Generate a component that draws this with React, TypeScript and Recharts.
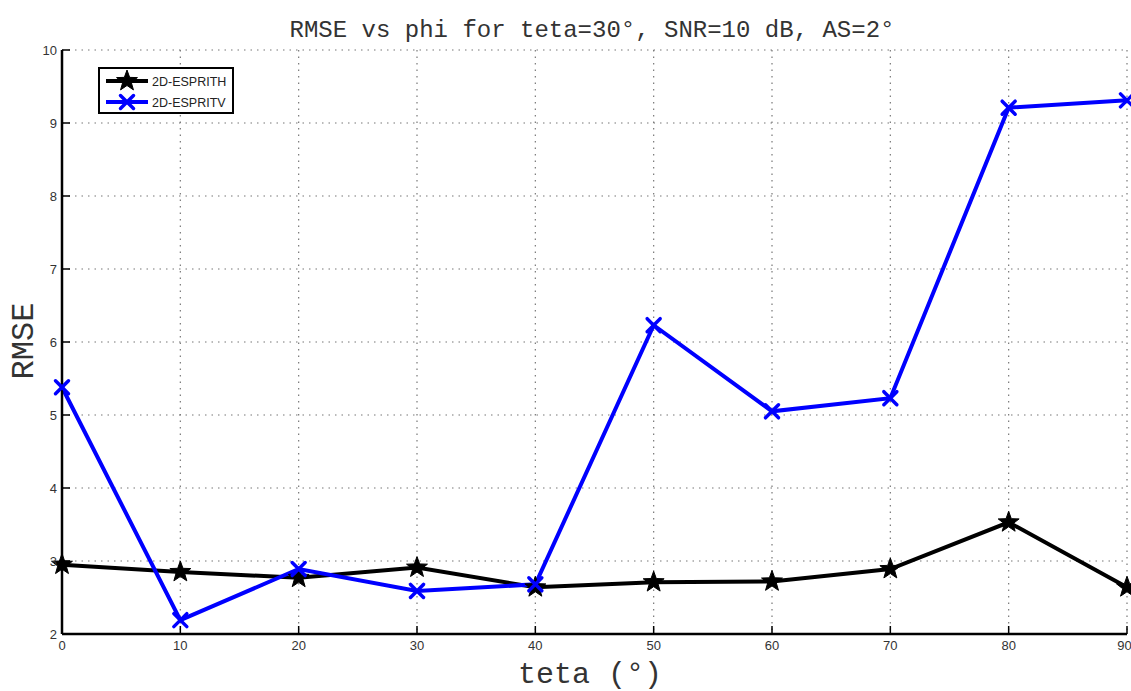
import { LineChart, Line, XAxis, YAxis, CartesianGrid, Legend } from 'recharts';

// MARK: - Data

const tetaValues = [0, 10, 20, 30, 40, 50, 60, 70, 80, 90];
const espritH = [2.95, 2.85, 2.77, 2.91, 2.64, 2.71, 2.72, 2.89, 3.53, 2.64];
const espritV = [5.38, 2.19, 2.89, 2.59, 2.68, 6.23, 5.05, 5.23, 9.21, 9.31];
const xTicks = [0, 10, 20, 30, 40, 50, 60, 70, 80, 90];
const yTicks = [2, 3, 4, 5, 6, 7, 8, 9, 10];

const seriesNames = ['2D-ESPRITH', '2D-ESPRITV'];

const chartData = tetaValues.map((t, i) => ({ teta: t, h: espritH[i], v: espritV[i] }));

const BLUE = '#0000ff';
const MONO = '"Liberation Mono", "DejaVu Sans Mono", monospace';
const SANS = '"Liberation Sans", Arial, sans-serif';

// MARK: - Markers

const starPath = (cx: number, cy: number, outer: number, inner: number) => {
    let d = '';
    for (let i = 0; i < 10; i++) {
        const r = i % 2 === 0 ? outer : inner;
        const a = -Math.PI / 2 + (i * Math.PI) / 5;
        d += `${i === 0 ? 'M' : 'L'}${cx + r * Math.cos(a)},${cy + r * Math.sin(a)}`;
    }
    return d + 'Z';
};

const StarDot = (props: any) => {
    const { cx, cy, index } = props;
    if (cx == null || cy == null) return <g key={index} />;
    return <path key={index} d={starPath(cx, cy, 11, 4.5)} fill="#000" stroke="#000" strokeWidth={1} />;
};

const CrossDot = (props: any) => {
    const { cx, cy, index } = props;
    if (cx == null || cy == null) return <g key={index} />;
    const s = 6.5;
    return (
        <g key={index} stroke={BLUE} strokeWidth={3.5} strokeLinecap="round">
            <line x1={cx - s} y1={cy - s} x2={cx + s} y2={cy + s} />
            <line x1={cx - s} y1={cy + s} x2={cx + s} y2={cy - s} />
        </g>
    );
};

// MARK: - Legend

const LegendBox = () => (
    <div
        style={{
            border: '2px solid #000',
            background: '#fff',
            width: 136,
            height: 47,
            boxSizing: 'border-box',
        }}
    >
        <svg width={132} height={43}>
            {seriesNames.map((name, i) => {
                const y = 12 + i * 21;
                const color = i === 0 ? '#000' : BLUE;
                return (
                    <g key={name}>
                        <line x1={6} y1={y} x2={48} y2={y} stroke={color} strokeWidth={4} />
                        {i === 0 ? <StarDot cx={27} cy={y} index={0} /> : <CrossDot cx={27} cy={y} index={1} />}
                        <text x={52} y={y + 4.5} fontSize={12.5} fontFamily={SANS} fill="#222">
                            {name}
                        </text>
                    </g>
                );
            })}
        </svg>
    </div>
);

// MARK: - Chart

export default function App() {
    return (
        <div style={{ position: 'absolute', left: 0, top: 0, width: 1131, height: 691, background: '#fff' }}>
            <LineChart
                width={1131}
                height={691}
                data={chartData}
                margin={{ top: 50, right: 4, bottom: 27, left: 42 }}
            >
                <CartesianGrid
                    stroke="#777"
                    strokeDasharray="1.5 5"
                    strokeWidth={1.2}
                    horizontalValues={yTicks}
                    verticalValues={xTicks}
                />

                <XAxis
                    dataKey="teta"
                    type="number"
                    domain={[0, 90]}
                    ticks={xTicks}
                    height={30}
                    tickSize={-8}
                    tickMargin={15}
                    axisLine={{ stroke: '#000', strokeWidth: 2.5 }}
                    tickLine={{ stroke: '#000', strokeWidth: 1.5 }}
                    tick={{ fontSize: 13, fontFamily: SANS, fill: '#333' }}
                />
                <XAxis
                    xAxisId="top"
                    orientation="top"
                    dataKey="teta"
                    type="number"
                    domain={[0, 90]}
                    ticks={xTicks}
                    height={0}
                    tickSize={-8}
                    axisLine={{ stroke: '#000', strokeWidth: 2.5 }}
                    tickLine={{ stroke: '#000', strokeWidth: 1.5 }}
                    tick={() => <g />}
                />

                <YAxis
                    type="number"
                    domain={[2, 10]}
                    ticks={yTicks}
                    width={20}
                    tickSize={-8}
                    tickMargin={13}
                    axisLine={{ stroke: '#000', strokeWidth: 2.5 }}
                    tickLine={{ stroke: '#000', strokeWidth: 1.5 }}
                    tick={{ fontSize: 13, fontFamily: SANS, fill: '#333' }}
                />
                <YAxis
                    yAxisId="right"
                    orientation="right"
                    type="number"
                    domain={[2, 10]}
                    ticks={yTicks}
                    width={0}
                    tickSize={-8}
                    axisLine={{ stroke: '#000', strokeWidth: 2.5 }}
                    tickLine={{ stroke: '#000', strokeWidth: 1.5 }}
                    tick={() => <g />}
                />

                <Legend
                    layout="horizontal"
                    verticalAlign="middle"
                    align="center"
                    content={() => <LegendBox />}
                    wrapperStyle={{ left: 98, top: 67, width: 136, height: 47 }}
                />

                <Line
                    dataKey="h"
                    name={seriesNames[0]}
                    stroke="#000"
                    strokeWidth={4}
                    dot={StarDot}
                    activeDot={false}
                    isAnimationActive={false}
                />
                <Line
                    dataKey="v"
                    name={seriesNames[1]}
                    stroke={BLUE}
                    strokeWidth={4}
                    dot={CrossDot}
                    activeDot={false}
                    isAnimationActive={false}
                />

                {/* Title and axis labels */}
                <text x={592} y={37} textAnchor="middle" fontSize={24} fontFamily={MONO} fill="#333">
                    RMSE vs phi for teta=30°, SNR=10 dB, AS=2°
                </text>
                <text x={590} y={683} textAnchor="middle" fontSize={30} fontFamily={MONO} fill="#333">
                    teta (°)
                </text>
                <text
                    x={33}
                    y={341}
                    textAnchor="middle"
                    fontSize={32}
                    fontFamily={MONO}
                    fill="#333"
                    transform="rotate(-90 33 341)"
                >
                    RMSE
                </text>
            </LineChart>
        </div>
    );
}
